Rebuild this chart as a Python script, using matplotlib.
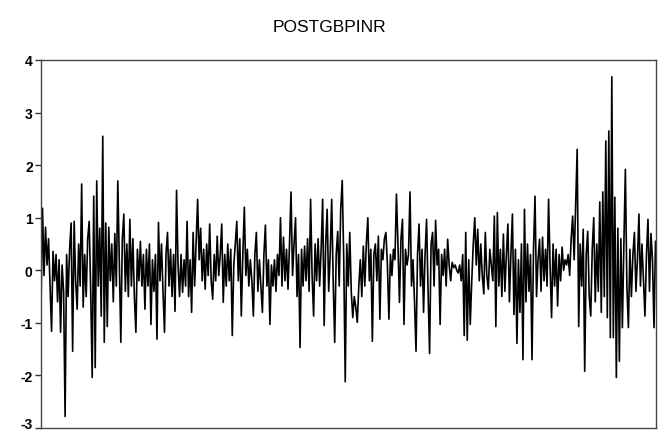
import matplotlib
matplotlib.use("Agg")
import matplotlib.pyplot as plt

# values, left to right
chunk_01 = [-0.7, 1.18, -0.1, 0.82, 0.1, 0.6, -0.3, -1.16, 0.36, -0.2, 0.3, -0.6, 0.2, -1.18, 0.1, -0.4, -2.78, 0.3, -0.5, 0.4]
chunk_02 = [0.9, -1.54, 0.93, -0.2, -0.74, 0.5, -0.3, 1.64, -0.7, 0.3, -0.5, 0.6, 0.93, -0.4, -2.04, 1.41, -1.85, 1.7, -0.3, 0.8]
chunk_03 = [-0.87, 2.55, -1.37, 0.9, -1.07, 0.82, -0.2, 0.5, -0.6, 0.7, -0.3, 1.7, 0.2, -1.37, 0.6, 1.07, -0.4, 0.5, -0.5, 0.97]
chunk_04 = [-0.3, 0.6, -0.5, -1.18, 0.4, -0.2, 0.55, -0.3, 0.3, -0.74, 0.4, -0.3, 0.5, -1.03, 0.2, -0.4, 0.3, -1.31, 0.91, -0.2]
chunk_05 = [0.5, -0.4, -1.18, 0.3, 0.72, -0.3, 0.4, -0.5, 0.3, -0.78, 1.52, 0.1, -0.5, 0.3, -0.42, 0.2, -0.3, 0.93, -0.5, 0.2]
chunk_06 = [-0.8, 0.72, -0.3, 0.5, 1.35, 0.2, 0.8, -0.2, 0.4, -0.36, 0.5, -0.1, 0.88, -0.2, -0.55, 0.3, -0.2, 0.65, -0.1, 0.3]
chunk_07 = [0.88, -0.61, 0.3, -0.3, 0.5, -0.2, 0.4, -1.24, 0.1, 0.5, 0.93, -0.2, 0.6, -0.87, 0.3, 1.2, -0.1, 0.4, -0.3, 0.2]
chunk_08 = [-0.2, -0.87, 0.3, 0.72, -0.4, 0.2, -0.3, -0.8, 0.3, 0.86, -0.3, 0.2, -1.03, 0.1, -0.3, 0.2, -0.4, 0.3, -0.1, 1.0]
chunk_09 = [-0.3, 0.63, -0.2, 0.4, -0.36, 0.5, 1.49, -0.1, 0.5, 1.0, -0.5, 0.3, -1.47, 0.4, -0.3, 0.46, -0.2, 0.6, -0.4, 1.35]
chunk_10 = [-0.1, -0.87, 0.5, -0.2, 0.6, -0.3, 0.4, 1.35, -1.05, 0.5, 1.16, -0.4, 0.3, 1.35, -0.2, -1.37, 0.3, 0.74, -0.3, 1.16]
chunk_11 = [1.71, 0.2, -2.12, 0.5, -0.3, 0.72, -0.4, -0.9, -0.5, -0.7, -0.99, -0.3, 0.2, -0.5, 0.46, -0.3, 0.5, 1.0, -0.2, 0.4]
chunk_12 = [-1.35, 0.3, 0.5, -0.2, 0.65, -0.93, 0.4, 0.2, 0.6, 0.72, 0.1, -0.93, 0.3, -0.1, 0.4, 0.2, 1.45, 0.5, -0.61, 0.6]
chunk_13 = [0.97, -1.03, 0.4, 0.1, 0.3, 1.49, -0.3, 0.2, -0.6, -1.54, 0.3, 0.88, -0.3, 0.4, -0.8, 0.3, 0.97, -0.4, -1.58, 0.5]
chunk_14 = [0.72, -0.3, 0.95, 0.1, 0.4, -1.03, 0.3, -0.1, 0.4, -0.3, 0.59, 0.1, -0.2, 0.15, 0.05, 0.1, 0.0, -0.05, 0.1, -0.2]
chunk_15 = [0.3, -1.24, 0.72, -1.33, 0.2, -1.03, -0.2, 0.5, 1.0, 0.1, 0.78, -0.2, 0.5, -0.1, -0.45, 0.72, -0.1, -0.36, 0.4, 0.1]
chunk_16 = [-0.2, 1.03, -1.07, 1.1, -0.3, 0.4, -0.5, 0.69, -0.4, 0.3, 0.88, -0.6, 0.3, 1.07, -0.84, 0.4, -1.39, 0.2, -0.8, 0.5]
chunk_17 = [-1.7, 1.16, -0.6, 0.5, -0.4, 0.3, -1.7, 0.4, 1.41, -0.5, 0.2, 0.59, -0.4, 0.63, -0.2, 0.4, -0.3, 1.35, 0.1, -0.9]
chunk_18 = [0.5, -0.3, 0.4, -0.68, 0.3, -0.2, 0.44, 0.0, 0.2, 0.1, 0.3, -0.1, 0.6, 1.03, 0.2, 1.26, 2.3, -1.07, 0.5, -0.3]
chunk_19 = [0.78, -1.92, 0.3, 0.74, -0.5, -0.87, 0.4, 1.0, -0.6, 0.5, -0.4, 1.3, -0.8, 1.49, -0.5, 2.46, -0.9, 2.65, -1.28, 3.68]
chunk_20 = [-1.28, 1.39, -2.04, 0.8, -1.73, 0.6, -1.09, 0.5, 1.92, -0.3, -1.09, 0.4, -0.5, 0.3, 0.72, -0.4, 0.2, 1.07, -0.3, 0.5]
chunk_21 = [-0.2, -0.87, 0.3, 0.97, -0.4, 0.7, 0.2, -1.09, 0.55]

series = (chunk_01 + chunk_02 + chunk_03 + chunk_04 + chunk_05 + chunk_06 + chunk_07
          + chunk_08 + chunk_09 + chunk_10 + chunk_11 + chunk_12 + chunk_13 + chunk_14
          + chunk_15 + chunk_16 + chunk_17 + chunk_18 + chunk_19 + chunk_20 + chunk_21)
y_ticks = [-3, -2, -1, 0, 1, 2, 3, 4]

plt.rcParams['font.family'] = ['Liberation Sans', 'DejaVu Sans']
plt.rcParams['axes.unicode_minus'] = False

fig = plt.figure(figsize=(6.58, 4.31), dpi=100)
ax = fig.add_axes([41 / 658, 1 - 429 / 431, (655.5 - 41) / 658, (429 - 61) / 431])

ax.plot(range(len(series)), series, color='black', linewidth=1.2)

ax.set_xlim(0, len(series) - 1)
ax.set_ylim(-3, 4)
ax.set_yticks(y_ticks)
ax.set_yticklabels([str(t) for t in y_ticks], fontsize=10, fontweight='bold')
ax.tick_params(axis='y', direction='out', length=4, width=1, pad=2, color='#333333')
# bottom label sits above its tick so it stays inside the figure
ax.get_yticklabels()[0].set_verticalalignment('baseline')
ax.set_xticks([])
for s in ax.spines.values():
    s.set_color('#444444')
    s.set_linewidth(1)

fig.text(329 / 658, 1 - 27 / 431, 'POSTGBPINR', ha='center', va='center', fontsize=12.5)

fig.savefig('out.png', dpi=100)
